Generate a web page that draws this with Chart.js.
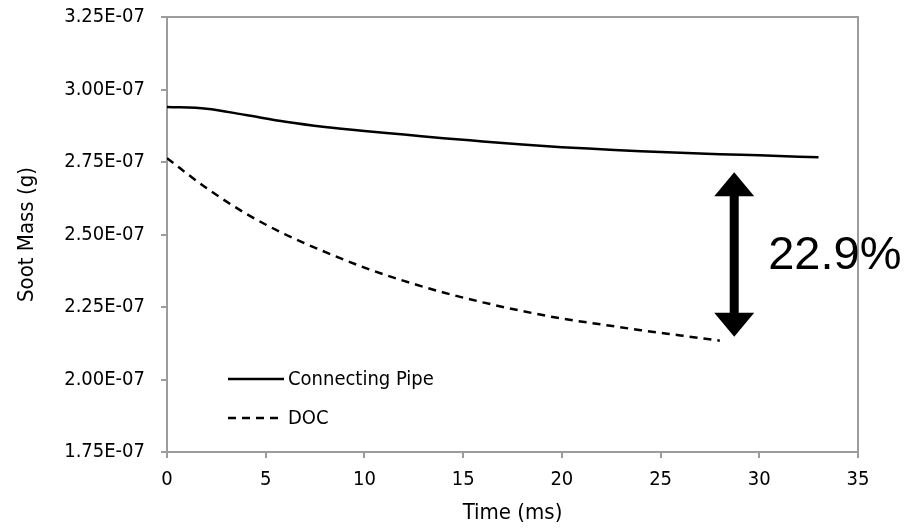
<!DOCTYPE html>
<html lang="en">
<head>
    <meta charset="UTF-8">
    <title>Soot Mass vs Time</title>
    <script src="https://cdn.jsdelivr.net/npm/chart.js@4.4.3/dist/chart.umd.min.js"></script>
    <style>
        body { margin: 0; background: #fff; }
        .contenedor { width: 923px; height: 529px; position: relative; }
    </style>
</head>
<body>
    <div class="contenedor">
        <canvas id="sootChart"></canvas>
    </div>
    <script>
        // Datos
        const pipeTime = [0, 2, 4, 6, 8, 10, 12, 14, 16, 18, 20, 22, 24, 26, 28, 30, 33];
        const pipeMass = [2.940e-7, 2.934e-7, 2.912e-7, 2.889e-7, 2.871e-7, 2.857e-7, 2.845e-7, 2.832e-7, 2.821e-7,
                          2.810e-7, 2.801e-7, 2.794e-7, 2.787e-7, 2.782e-7, 2.777e-7, 2.773e-7, 2.766e-7];
        const docTime = [0, 2, 4, 6, 8, 10, 12, 14, 16, 18, 20, 22, 24, 26, 28];
        const docMass = [2.763e-7, 2.660e-7, 2.572e-7, 2.500e-7, 2.440e-7, 2.386e-7, 2.340e-7, 2.300e-7, 2.266e-7,
                         2.236e-7, 2.210e-7, 2.190e-7, 2.170e-7, 2.152e-7, 2.134e-7];
        const seriesNames = ['Connecting Pipe', 'DOC'];
        const xTicks = [0, 5, 10, 15, 20, 25, 30, 35];
        const yTicks = [1.75e-7, 2.00e-7, 2.25e-7, 2.50e-7, 2.75e-7, 3.00e-7, 3.25e-7];

        // Flecha de diferencia
        const arrowX = 28.73;
        const arrowTop = 2.715e-7;
        const arrowBottom = 2.147e-7;
        const arrowLabel = '22.9%';

        const gris = '#9c9c9c';
        const fuenteEje = "'DejaVu Sans Condensed', 'DejaVu Sans', sans-serif";

        function formatoExp(v) {
            const [m, e] = Number(v).toExponential(2).split('e');
            const signo = e[0] === '-' ? '-' : '+';
            const n = Math.abs(parseInt(e, 10)).toString().padStart(2, '0');
            return m + 'E' + signo + n;
        }

        // Marco gris arriba y a la derecha
        const marcoPlugin = {
            id: 'marco',
            beforeDatasetsDraw(chart) {
                const { ctx, chartArea: a } = chart;
                ctx.save();
                ctx.strokeStyle = gris;
                ctx.lineWidth = 2;
                ctx.beginPath();
                ctx.moveTo(a.left, a.top);
                ctx.lineTo(a.right, a.top);
                ctx.lineTo(a.right, a.bottom);
                ctx.stroke();
                ctx.restore();
            }
        };

        // Leyenda dentro del área del gráfico
        const leyendaPlugin = {
            id: 'leyenda',
            afterDatasetsDraw(chart) {
                const { ctx, chartArea: a } = chart;
                ctx.save();
                chart.data.datasets.forEach((ds, i) => {
                    const y = a.top + 362 + i * 39;
                    ctx.strokeStyle = '#000';
                    ctx.lineWidth = 2.5;
                    ctx.setLineDash(ds.borderDash || []);
                    ctx.beginPath();
                    ctx.moveTo(a.left + 61, y);
                    ctx.lineTo(a.left + 117, y);
                    ctx.stroke();
                    ctx.setLineDash([]);
                    ctx.fillStyle = '#000';
                    ctx.font = "20px " + fuenteEje;
                    ctx.textBaseline = 'middle';
                    ctx.fillText(ds.label, a.left + 121, y + 1);
                });
                ctx.restore();
            }
        };

        // Flecha doble con el porcentaje
        const flechaPlugin = {
            id: 'flecha',
            afterDatasetsDraw(chart) {
                const { ctx, scales } = chart;
                const x = scales.x.getPixelForValue(arrowX);
                const y1 = scales.y.getPixelForValue(arrowTop);
                const y2 = scales.y.getPixelForValue(arrowBottom);
                const hw = 20, hh = 24, sw = 4.5;
                ctx.save();
                ctx.fillStyle = '#000';
                ctx.beginPath();
                ctx.moveTo(x, y1);
                ctx.lineTo(x + hw, y1 + hh);
                ctx.lineTo(x + sw, y1 + hh);
                ctx.lineTo(x + sw, y2 - hh);
                ctx.lineTo(x + hw, y2 - hh);
                ctx.lineTo(x, y2);
                ctx.lineTo(x - hw, y2 - hh);
                ctx.lineTo(x - sw, y2 - hh);
                ctx.lineTo(x - sw, y1 + hh);
                ctx.lineTo(x - hw, y1 + hh);
                ctx.closePath();
                ctx.fill();
                ctx.font = "47px 'Liberation Sans', Arial, sans-serif";
                ctx.textBaseline = 'middle';
                ctx.textAlign = 'left';
                ctx.fillText(arrowLabel, x + 34, (y1 + y2) / 2 + 2);
                ctx.restore();
            }
        };

        new Chart(document.getElementById('sootChart'), {
            type: 'line',
            data: {
                datasets: [{
                    label: seriesNames[0],
                    data: pipeTime.map((t, i) => ({ x: t, y: pipeMass[i] })),
                    borderColor: '#000',
                    borderWidth: 2.5,
                    pointRadius: 0,
                    cubicInterpolationMode: 'monotone',
                    fill: false
                }, {
                    label: seriesNames[1],
                    data: docTime.map((t, i) => ({ x: t, y: docMass[i] })),
                    borderColor: '#000',
                    borderWidth: 2.5,
                    borderDash: [8, 6],
                    pointRadius: 0,
                    cubicInterpolationMode: 'monotone',
                    fill: false
                }]
            },
            options: {
                responsive: true,
                maintainAspectRatio: false,
                animation: false,
                layout: { padding: { top: 17, right: 65, bottom: 0, left: 0 } },
                plugins: {
                    legend: { display: false },
                    tooltip: { enabled: false }
                },
                scales: {
                    x: {
                        type: 'linear',
                        min: xTicks[0],
                        max: xTicks[xTicks.length - 1],
                        afterBuildTicks: s => { s.ticks = xTicks.map(v => ({ value: v })); },
                        afterFit: s => { s.height = 77; s.paddingLeft = 0; s.paddingRight = 0; },
                        grid: { drawOnChartArea: false, color: gris, tickLength: 6, lineWidth: 2 },
                        border: { color: gris, width: 2 },
                        ticks: {
                            color: '#000',
                            padding: 10,
                            maxRotation: 0,
                            font: { family: fuenteEje, size: 20 }
                        },
                        title: {
                            display: true,
                            text: 'Time (ms)',
                            color: '#000',
                            font: { family: fuenteEje, size: 22 },
                            padding: { top: 0, bottom: 3 }
                        }
                    },
                    y: {
                        min: yTicks[0],
                        max: yTicks[yTicks.length - 1],
                        afterBuildTicks: s => { s.ticks = yTicks.map(v => ({ value: v })); },
                        afterFit: s => { s.width = 167; s.paddingTop = 0; s.paddingBottom = 0; },
                        grid: { drawOnChartArea: false, color: gris, tickLength: 6, lineWidth: 2 },
                        border: { color: gris, width: 2 },
                        ticks: {
                            color: '#000',
                            padding: 16,
                            font: { family: fuenteEje, size: 20 },
                            callback: v => formatoExp(v)
                        },
                        title: {
                            display: true,
                            text: 'Soot Mass (g)',
                            color: '#000',
                            font: { family: fuenteEje, size: 22 },
                            padding: { top: 14, bottom: 0 }
                        }
                    }
                }
            },
            plugins: [marcoPlugin, leyendaPlugin, flechaPlugin]
        });
    </script>
</body>
</html>
